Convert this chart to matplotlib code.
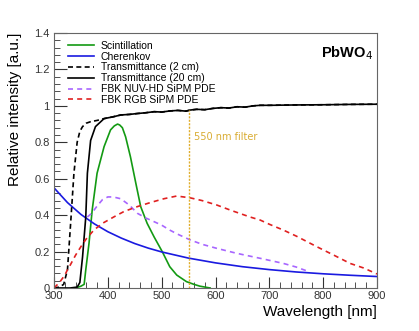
import matplotlib
matplotlib.use("Agg")
import matplotlib.pyplot as plt
from matplotlib.ticker import MultipleLocator, FuncFormatter

plt.rcParams['font.family'] = ['Liberation Sans', 'DejaVu Sans']

# --- donnees ---
wl_t2 = [300, 310, 318, 325, 331, 337, 343, 348, 353, 360, 368, 380, 393, 410, 424, 440,
         455, 470, 486, 500, 515, 530, 545, 553, 565, 580, 595, 610, 625, 640, 655, 670,
         683, 700, 750, 800, 850, 900]
t2 = [0.0, 0.005, 0.02, 0.1, 0.36, 0.63, 0.8, 0.86, 0.886, 0.905, 0.913, 0.92, 0.93, 0.94,
      0.95, 0.953, 0.958, 0.962, 0.968, 0.966, 0.972, 0.975, 0.971, 0.977, 0.981, 0.979,
      0.986, 0.99, 0.988, 0.995, 0.993, 1.0, 1.003, 1.003, 1.005, 1.006, 1.008, 1.009]

wl_t20 = [300, 330, 343, 348, 353, 359, 362, 368, 377, 393, 410, 424, 440, 455, 470, 486,
          500, 515, 530, 545, 553, 565, 580, 595, 610, 625, 640, 655, 670, 683, 700, 750,
          800, 850, 900]
t20 = [0.0, 0.0, 0.005, 0.03, 0.17, 0.39, 0.63, 0.81, 0.886, 0.93, 0.94, 0.95, 0.953,
       0.958, 0.962, 0.968, 0.966, 0.972, 0.975, 0.971, 0.977, 0.981, 0.979, 0.986, 0.99,
       0.988, 0.995, 0.993, 1.0, 1.003, 1.003, 1.005, 1.006, 1.008, 1.009]

wl_scint = [340, 345, 350, 356, 359, 365, 371, 380, 393, 405, 412, 418, 422, 427, 433, 442,
            452, 461, 473, 486, 501, 515, 528, 546, 560, 571, 590]
scint = [0.0, 0.005, 0.01, 0.02, 0.1, 0.245, 0.43, 0.63, 0.776, 0.868, 0.89, 0.9, 0.895,
         0.88, 0.83, 0.72, 0.575, 0.447, 0.355, 0.28, 0.2, 0.117, 0.071, 0.035, 0.02, 0.01, 0.0]

wl_cher = [300, 325, 350, 375, 400, 425, 450, 475, 500, 550, 600, 650, 700, 750, 800, 850, 900]
cher = [0.55, 0.469, 0.404, 0.352, 0.309, 0.274, 0.244, 0.219, 0.198, 0.164, 0.138, 0.117,
        0.101, 0.088, 0.078, 0.07, 0.063]

wl_nuv = [362, 370, 380, 390, 400, 410, 424, 440, 455, 470, 486, 500, 515, 530, 553, 575,
          602, 640, 683, 726, 750, 775]
nuv = [0.39, 0.41, 0.45, 0.485, 0.5, 0.5, 0.49, 0.455, 0.41, 0.385, 0.364, 0.345, 0.318,
       0.295, 0.264, 0.24, 0.218, 0.19, 0.163, 0.135, 0.115, 0.088]

wl_rgb = [300, 310, 320, 325, 330, 340, 350, 360, 374, 390, 411, 430, 455, 480, 504, 528,
          553, 575, 602, 630, 664, 683, 700, 726, 750, 788, 820, 850, 875, 900]
rgb = [0.0, 0.03, 0.07, 0.1, 0.125, 0.18, 0.227, 0.27, 0.318, 0.355, 0.39, 0.42, 0.447,
       0.47, 0.49, 0.505, 0.495, 0.48, 0.456, 0.425, 0.39, 0.373, 0.35, 0.318, 0.285, 0.227,
       0.18, 0.135, 0.11, 0.077]

filtre_wl = 550
filtre_haut = 0.977

fig = plt.figure(figsize=(4.19, 3.31), dpi=100)
ax = fig.add_axes([0.1289, 0.1299, 0.7709, 0.7704])

ax.plot(wl_scint, scint, color="#139a13", lw=1.2, label="Scintillation")
ax.plot(wl_cher, cher, color="#1a1ae0", lw=1.2, label="Cherenkov")
ax.plot(wl_t2, t2, color="black", lw=1.2, dashes=(3, 2), label="Transmittance (2 cm)")
ax.plot(wl_t20, t20, color="black", lw=1.2, label="Transmittance (20 cm)")
ax.plot(wl_nuv, nuv, color="#a866ff", lw=1.2, dashes=(3, 2.5), label="FBK NUV-HD SiPM PDE")
ax.plot(wl_rgb, rgb, color="#e02020", lw=1.2, dashes=(3, 2.5), label="FBK RGB SiPM PDE")

ax.plot([filtre_wl, filtre_wl], [0, filtre_haut], color="#e0ad2a", lw=1.0, dashes=(1.5, 1))
ax.text(560, 0.83, "550 nm filter", color="#d9ac32", fontsize=7, va="center",
        family=["DejaVu Sans"])
ax.text(892, 1.29, "PbWO$_4$", fontsize=10.5, fontweight="bold", ha="right", va="center")

ax.set_xlim(300, 900)
ax.set_ylim(0, 1.4)
ax.xaxis.set_major_locator(MultipleLocator(100))
ax.xaxis.set_minor_locator(MultipleLocator(20))
ax.yaxis.set_major_locator(MultipleLocator(0.2))
ax.yaxis.set_minor_locator(MultipleLocator(0.04))
ax.yaxis.set_major_formatter(FuncFormatter(lambda v, p: f"{v:g}"))
ax.tick_params(which="both", direction="in", colors="#333333", labelsize=8)
ax.tick_params(axis="x", which="major", length=8, pad=2)
ax.tick_params(axis="x", which="minor", length=4)
ax.tick_params(axis="y", which="major", length=9, pad=3)
ax.tick_params(axis="y", which="minor", length=4.5)
for s in ax.spines.values():
    s.set_color("#666666")

ax.set_xlabel("Wavelength [nm]", fontsize=11, loc="right")
ax.set_ylabel("Relative intensity [a.u.]", fontsize=11, loc="top")
ax.xaxis.set_label_coords(1.0, -0.065)
ax.yaxis.set_label_coords(-0.099, 1.0)

ax.legend(loc="upper left", bbox_to_anchor=(0.016, 1.002), frameon=False, fontsize=7.5,
          handlelength=2.5, handletextpad=0.7, labelspacing=0.08, borderaxespad=0.5,
          borderpad=0.3)

fig.savefig("out.png", dpi=100)
